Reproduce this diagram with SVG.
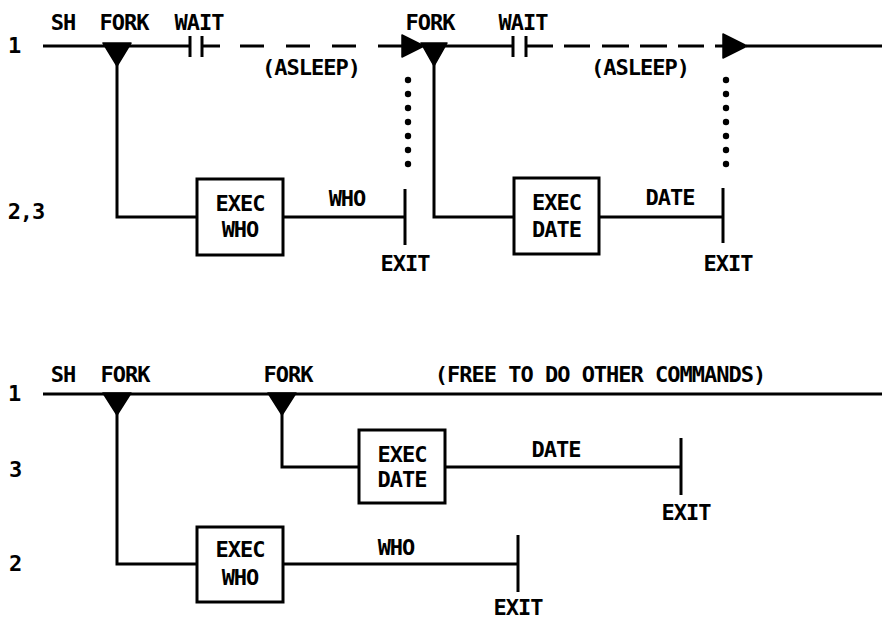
<svg xmlns="http://www.w3.org/2000/svg" width="882" height="620" viewBox="0 0 882 620">
<style>
text{font-family:"DejaVu Sans Mono","Liberation Mono",monospace;font-weight:bold;font-size:22px;letter-spacing:-1px;fill:#000;text-anchor:middle}
.ln{stroke:#000;stroke-width:3;fill:none}
.bx{stroke:#000;stroke-width:3;fill:#fff}
.tri{fill:#000;stroke:#000;stroke-width:1.5;stroke-linejoin:round}
.dot{fill:#000}
</style>
<rect width="882" height="620" fill="#fff"/>

<!-- TOP DIAGRAM -->
<g id="top-labels">
<text x="14" y="53">1</text>
<text x="26" y="219">2,3</text>
<text x="63" y="30">SH</text>
<text x="124" y="30">FORK</text>
<text x="199" y="30">WAIT</text>
<text x="430" y="30">FORK</text>
<text x="523" y="30">WAIT</text>
<text x="311" y="75">(ASLEEP)</text>
<text x="640" y="75">(ASLEEP)</text>
</g>

<g id="connectors">
<line class="ln" x1="43" y1="46" x2="190" y2="46"/>
<g id="dash1">
<line class="ln" x1="202" y1="46" x2="220" y2="46"/>
<line class="ln" x1="240" y1="46" x2="264" y2="46"/>
<line class="ln" x1="286" y1="46" x2="310" y2="46"/>
<line class="ln" x1="332" y1="46" x2="356" y2="46"/>
<line class="ln" x1="378" y1="46" x2="402" y2="46"/>
</g>
<line class="ln" x1="424" y1="46" x2="513" y2="46"/>
<g id="dash2">
<line class="ln" x1="526" y1="46" x2="553" y2="46"/>
<line class="ln" x1="564" y1="46" x2="590" y2="46"/>
<line class="ln" x1="602" y1="46" x2="629" y2="46"/>
<line class="ln" x1="640" y1="46" x2="667" y2="46"/>
<line class="ln" x1="678" y1="46" x2="704" y2="46"/>
<line class="ln" x1="715" y1="46" x2="723" y2="46"/>
</g>
<line class="ln" x1="746" y1="46" x2="882" y2="46"/>
<polyline class="ln" points="117,64 117,217 197,217"/>
<line class="ln" x1="283" y1="217" x2="405" y2="217"/>
<polyline class="ln" points="434,64 434,217 514,217"/>
<line class="ln" x1="599" y1="217" x2="723" y2="217"/>

<line class="ln" x1="43" y1="394" x2="882" y2="394"/>
<polyline class="ln" points="117,413 117,564 197,564"/>
<line class="ln" x1="283" y1="564" x2="518" y2="564"/>
<polyline class="ln" points="282,413 282,467 359,467"/>
<line class="ln" x1="445" y1="467" x2="681" y2="467"/>
</g>

<g id="wait1">
<line class="ln" x1="190" y1="36" x2="190" y2="57"/>
<line class="ln" x1="202" y1="36" x2="202" y2="57"/>
</g>
<g id="wait2">
<line class="ln" x1="513" y1="36" x2="513" y2="57"/>
<line class="ln" x1="526" y1="36" x2="526" y2="57"/>
</g>

<g id="fork1"><polygon class="tri" points="103,43 131,43 117,66"/></g>
<g id="wake1"><polygon class="tri" points="402,35 424,46 402,57"/></g>
<g id="fork2"><polygon class="tri" points="421,43 447,43 434,66"/></g>
<g id="wake2"><polygon class="tri" points="723,34 747,46 723,58"/></g>

<g id="dots1">
<circle class="dot" cx="408" cy="80" r="3.2"/>
<circle class="dot" cx="408" cy="94" r="3.2"/>
<circle class="dot" cx="408" cy="108" r="3.2"/>
<circle class="dot" cx="408" cy="122" r="3.2"/>
<circle class="dot" cx="408" cy="136" r="3.2"/>
<circle class="dot" cx="408" cy="150" r="3.2"/>
<circle class="dot" cx="408" cy="164" r="3.2"/>
</g>
<g id="dots2">
<circle class="dot" cx="726" cy="80" r="3.2"/>
<circle class="dot" cx="726" cy="94" r="3.2"/>
<circle class="dot" cx="726" cy="108" r="3.2"/>
<circle class="dot" cx="726" cy="122" r="3.2"/>
<circle class="dot" cx="726" cy="136" r="3.2"/>
<circle class="dot" cx="726" cy="150" r="3.2"/>
<circle class="dot" cx="726" cy="164" r="3.2"/>
</g>

<g id="exec-who-top">
<rect class="bx" x="197" y="179" width="86" height="76"/>
<text x="240" y="211">EXEC</text>
<text x="240" y="237">WHO</text>
</g>
<text x="347" y="206">WHO</text>
<g id="exit-who-top">
<line class="ln" x1="405" y1="189" x2="405" y2="245"/>
<text x="405" y="271">EXIT</text>
</g>

<g id="exec-date-top">
<rect class="bx" x="514" y="178" width="85" height="76"/>
<text x="556.5" y="210">EXEC</text>
<text x="556.5" y="237">DATE</text>
</g>
<text x="670" y="205">DATE</text>
<g id="exit-date-top">
<line class="ln" x1="723" y1="188" x2="723" y2="243"/>
<text x="728" y="271">EXIT</text>
</g>

<!-- BOTTOM DIAGRAM -->
<g id="bottom-labels">
<text x="14" y="401">1</text>
<text x="15" y="477">3</text>
<text x="15" y="571">2</text>
<text x="63" y="382">SH</text>
<text x="125" y="382">FORK</text>
<text x="288" y="382">FORK</text>
<text x="600" y="382">(FREE TO DO OTHER COMMANDS)</text>
</g>

<g id="fork3"><polygon class="tri" points="103,393 131,393 117,415"/></g>
<g id="fork4"><polygon class="tri" points="268,393 296,393 282,415"/></g>

<g id="exec-date-bottom">
<rect class="bx" x="359" y="430" width="86" height="73"/>
<text x="402" y="462">EXEC</text>
<text x="402" y="487">DATE</text>
</g>
<text x="556" y="457">DATE</text>
<g id="exit-date-bottom">
<line class="ln" x1="681" y1="438" x2="681" y2="495"/>
<text x="686" y="520">EXIT</text>
</g>

<g id="exec-who-bottom">
<rect class="bx" x="197" y="527" width="86" height="75"/>
<text x="240" y="557">EXEC</text>
<text x="240" y="585">WHO</text>
</g>
<text x="396" y="555">WHO</text>
<g id="exit-who-bottom">
<line class="ln" x1="518" y1="535" x2="518" y2="592"/>
<text x="518" y="615">EXIT</text>
</g>
</svg>
